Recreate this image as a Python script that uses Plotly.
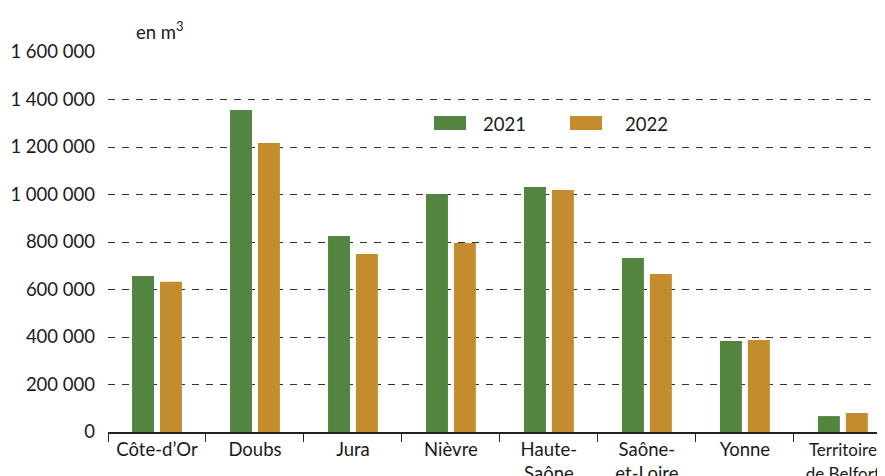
import plotly.graph_objects as go

categories = ["Côte-d’Or", "Doubs", "Jura", "Nièvre", "Haute-<br>Saône",
              "Saône-<br>et-Loire", "Yonne", "Territoire<br>de Belfort"]
category_text = ["Côte-d’Or", "Doubs", "Jura", "Nièvre", "Haute-<br>Saône",
                 "Saône-<br>et-Loire", "Yonne",
                 "<span style='font-size:17px'>Territoire<br>de Belfort</span>"]
values_2021 = [657000, 1356000, 825000, 1002000, 1032000, 733000, 383000, 67000]
values_2022 = [633000, 1217000, 749000, 796000, 1019000, 665000, 387000, 80000]
series_names = ["2021", "2022"]
ytick_vals = [0, 200000, 400000, 600000, 800000, 1000000, 1200000, 1400000, 1600000]
ytick_text = ["0", "200 000", "400 000", "600 000", "800 000", "1 000 000",
              "1 200 000", "1 400 000", "1 600 000"]

GREEN = "#538541"
GOLD = "#C38C2C"
FONT = "Lato, 'Open Sans', sans-serif"
FS = 18.5

fig = go.Figure()
fig.add_trace(go.Bar(x=categories, y=values_2021, name=series_names[0],
                     marker=dict(color=GREEN, line=dict(width=0))))
fig.add_trace(go.Bar(x=categories, y=values_2022, name=series_names[1],
                     marker=dict(color=GOLD, line=dict(width=0))))

# the page body has an 8px margin, so the figure starts at (8, 8)
fig.update_layout(
    width=877, height=468,
    margin=dict(l=100, r=0, t=44, b=44, autoexpand=False),
    paper_bgcolor="white", plot_bgcolor="white",
    barmode="group", bargap=0.43, bargroupgap=0.214,
    showlegend=False,
    font=dict(family=FONT, size=FS, color="#1a1a1a"),
)
fig.update_xaxes(
    range=[-0.5, 7.43], showline=True, linecolor="#222", linewidth=1.5,
    ticks="outside", tickson="boundaries", ticklen=8, tickwidth=1.2, tickcolor="#222",
    showgrid=False, tickfont=dict(size=FS), automargin=False, ticklabelstandoff=0,
    tickmode="array", tickvals=categories, ticktext=category_text,
)
fig.update_yaxes(
    range=[0, 1600000], tickvals=ytick_vals, ticktext=ytick_text,
    showgrid=True, gridcolor="#333", gridwidth=1, griddash="7px,7px",
    zeroline=False, showline=False, ticks="", ticklabelstandoff=12,
    tickfont=dict(size=FS), automargin=False,
)

# manual legend (positions in screen pixels of the reference)
W = 777.0
H = 380.0
def px(x):
    return (x - 108) / W
def py(y):
    return (432 - y) / H

for (x0, x1, col, tx, label) in [(434, 466, GREEN, 481, series_names[0]),
                                  (570, 602, GOLD, 623, series_names[1])]:
    fig.add_shape(type="rect", xref="paper", yref="paper",
                  x0=px(x0), x1=px(x1), y0=py(130), y1=py(116),
                  fillcolor=col, line=dict(width=0))
    fig.add_annotation(xref="paper", yref="paper", x=px(tx), y=py(124),
                       xanchor="left", yanchor="middle", text=label,
                       showarrow=False, font=dict(size=FS, color="#1a1a1a"))

fig.add_annotation(xref="paper", yref="paper", x=px(134), y=py(31),
                   xanchor="left", yanchor="middle", text="en m<sup>3</sup>",
                   showarrow=False, font=dict(size=FS, color="#1a1a1a"))

fig.write_html("out.html")
